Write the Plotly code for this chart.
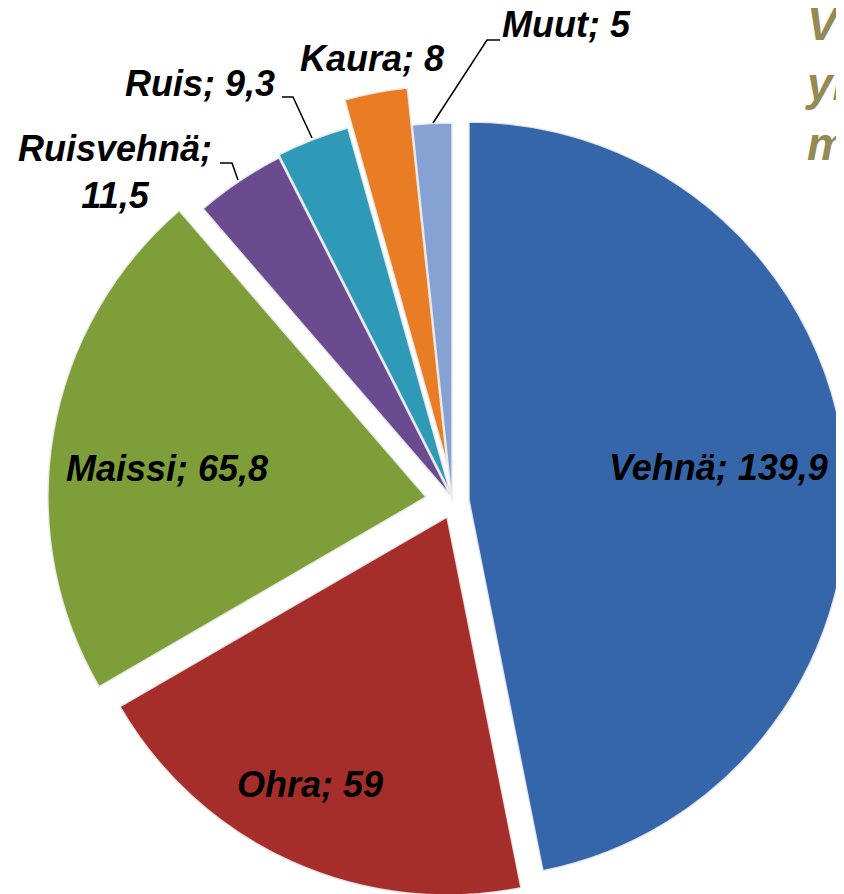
import plotly.graph_objects as go

# ---------------- data ----------------
categories = ["Vehnä", "Ohra", "Maissi", "Ruisvehnä", "Ruis", "Kaura", "Muut"]
values = [139.9, 59, 65.8, 11.5, 9.3, 8, 5]
colors = ["#3466A9", "#A52E2B", "#7E9E39", "#6A4B8F", "#2F9AB7", "#E97D25", "#86A2D3"]
title_lines = ["Viljat", "yhteensä", "milj. t"]

# ---------------- layout constants ----------------
W, H = 844, 894
OFF = 8                            # page offset of the figure (default body margin)
R = 378                            # pie radius in px
# vertex of each (exploded) slice, page px
slice_vertex = {
    "Vehnä": (469, 500),
    "Ohra": (447, 517),
    "Maissi": (426, 497),
    "Ruisvehnä": (450, 495),
    "Ruis": (450, 492),
    "Kaura": (447, 464),
    "Muut": (452, 501),
}
FONT = "Liberation Sans, Arial, sans-serif"
TRANSPARENT = "rgba(0,0,0,0)"
SEP_COLOR = "rgba(235,235,235,0.9)"


def fmt(v):
    return f"{v:g}".replace(".", ",")


def px(x, y):
    """page pixel -> paper coordinates"""
    return (x - OFF) / W, 1 - (y - OFF) / H


def domain_px(cx, cy, half):
    x0, y1 = px(cx - half, cy - half)
    x1, y0 = px(cx + half, cy + half)
    return dict(x=[x0, x1], y=[y0, y1])


total = sum(values)

fig = go.Figure()
# one pie trace per slice (same data), only that slice visible, so each
# exploded slice can sit exactly where the reference draws it
for k, cat in enumerate(categories):
    cols = [colors[i] if i == k else TRANSPARENT for i in range(len(categories))]
    lws = [1.5 if i == k else 0 for i in range(len(categories))]
    cx, cy = slice_vertex[cat]
    fig.add_trace(go.Pie(
        labels=categories, values=values, sort=False, direction="clockwise", rotation=0,
        textinfo="none", hoverinfo="label+value", name=cat,
        marker=dict(colors=cols, line=dict(color=SEP_COLOR, width=lws)),
        domain=domain_px(cx, cy, R), showlegend=False,
    ))

# ---------------- labels (page px) ----------------
label_pos = {  # x, centre y, xanchor
    "Vehnä": (718, 467, "center"),
    "Ohra": (310, 784, "center"),
    "Maissi": (167, 468, "center"),
    "Ruisvehnä": (115, 172, "center"),
    "Ruis": (200, 84, "center"),
    "Kaura": (372, 59, "center"),
    "Muut": (500, 25, "left"),
}
annotations = []
for c, v in zip(categories, values):
    x, y, xa = label_pos[c]
    sep = "<br>" if c == "Ruisvehnä" else " "
    ax, ay = px(x, y)
    annotations.append(dict(
        x=ax, y=ay, xref="paper", yref="paper", xanchor=xa, yanchor="middle",
        text=f"<b><i>{c};{sep}{fmt(v)}</i></b>", showarrow=False, align="center",
        font=dict(family=FONT, size=36, color="#000000"),
    ))

tx, ty = px(803, -4)
annotations.append(dict(
    x=tx, y=ty, xref="paper", yref="paper", xanchor="left", yanchor="top",
    text="<b><i>" + "<br>".join([title_lines[0], f"{title_lines[1]} {fmt(round(total, 1))}", title_lines[2]]) + "</i></b>",
    showarrow=False, align="left",
    font=dict(family=FONT, size=46, color="#948A54"),
))

# leader lines (page px)
leaders = [
    [(220, 163), (232, 163), (238, 180)],   # Ruisvehnä
    [(282, 97), (293, 97), (312, 138)],     # Ruis
    [(500, 40), (487, 40), (433, 123)],     # Muut
]
shapes = []
for pts in leaders:
    path = "M " + " L ".join(f"{px(x, y)[0]:.5f},{px(x, y)[1]:.5f}" for x, y in pts)
    shapes.append(dict(type="path", xref="paper", yref="paper", path=path,
                       line=dict(color="#000000", width=1.5)))

fig.update_layout(
    width=W, height=H, margin=dict(l=0, r=0, t=0, b=0),
    paper_bgcolor="white", plot_bgcolor="white",
    annotations=annotations, shapes=shapes, showlegend=False,
)

fig.write_html("out.html")
